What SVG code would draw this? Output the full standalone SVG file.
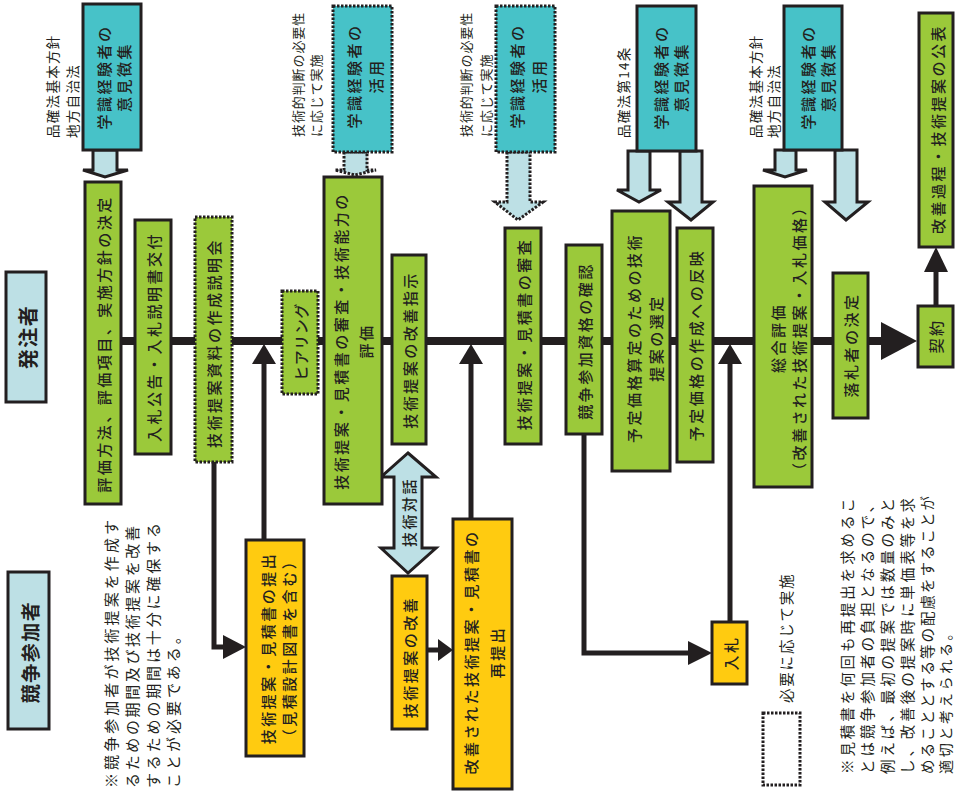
<svg xmlns="http://www.w3.org/2000/svg" width="955" height="794" viewBox="0 0 955 794">
<defs>
<style>
.bx{stroke:#231f20;stroke-width:3}
.g{fill:#9bc93a}
.y{fill:#ffcb10}
.c{fill:#47c2c8}
.lb{fill:#bde0e5}
.w{fill:#ffffff}
.dot{stroke-dasharray:2.5 1.5}
.ln{stroke:#231f20;fill:none;stroke-width:5}
.hd{fill:#231f20}
text{font-family:"Noto Sans CJK JP","Noto Sans CJK SC",sans-serif;fill:#231f20;dominant-baseline:central}
.t{font-size:15px;font-weight:500;letter-spacing:2.5px;text-anchor:middle}
.s{font-size:13.5px;letter-spacing:1.3px;text-anchor:start}
.n{font-size:14.5px;text-anchor:start}
.lane{font-size:20px;font-weight:bold;letter-spacing:1.5px;text-anchor:middle}
</style>
</defs>
<rect width="955" height="794" fill="#ffffff"/>
<g id="connectors">
<line x1="103" y1="341" x2="884" y2="341" stroke="#231f20" stroke-width="8"/>
<polygon class="hd" points="881,322 917,341 881,360"/>
<line class="ln" x1="264" y1="540" x2="264" y2="360"/>
<polygon class="hd" points="264,344 276,364 252,364"/>
<line class="ln" x1="471" y1="519" x2="471" y2="360"/>
<polygon class="hd" points="471,344 483,364 459,364"/>
<line class="ln" x1="730" y1="622" x2="730" y2="360"/>
<polygon class="hd" points="730,344 742,364 718,364"/>
<polyline class="ln" points="214,462 214,647 228,647"/>
<polygon class="hd" points="246,647 223,635 223,659"/>
<polyline class="ln" points="584,434 584,653 692,653"/>
<polygon class="hd" points="712,653 688,641 688,665"/>
<line class="ln" x1="427" y1="650" x2="442" y2="650"/>
<polygon class="hd" points="453,650 438,639 438,661"/>
<line class="ln" x1="936" y1="306" x2="936" y2="268"/>
<polygon class="hd" points="936,247 948,272 924,272"/>
<path class="bx lb" d="M93,150 V170 H83 L105,177 L128,170 H117 V150 Z"/>
<path class="bx lb dot" d="M344,152 V170 H335 L355,175 L376,170 H367 V152 Z"/>
<path class="bx lb dot" d="M507,152 V202 H495 L518,220 L543,202 H530 V152 Z"/>
<path class="bx lb" d="M628,151 V190 H617 L639,202 L661,190 H650 V151 Z"/>
<path class="bx lb" d="M680,151 V202 H668 L691,220 L713,202 H702 V151 Z"/>
<path class="bx lb" d="M775,150 V170 H763 L785,177 L807,170 H796 V150 Z"/>
<path class="bx lb" d="M835,150 V202 H825 L846,220 L868,202 H857 V150 Z"/>
<path class="bx lb" d="M408,453 L436,477 H422 V548 H436 L408,573 L381,548 H394 V477 H381 Z"/>
<text class="t" transform="translate(408,512) rotate(-90)">技術対話</text>
</g>
<g id="lane-owner"><rect class="bx lb" x="6" y="272" width="40" height="130"/><text class="lane" transform="translate(27,337) rotate(-90)">発注者</text></g>
<g id="lane-bidder"><rect class="bx lb" x="8" y="572" width="41" height="157"/><text class="lane" style="font-size:19px" transform="translate(29,652) rotate(-90)">競争参加者</text></g>
<g id="expert1"><rect class="bx c" x="83" y="4" width="58" height="146"/><text class="t" transform="translate(113,77) rotate(-90)"><tspan x="0" y="-10">学識経験者の</tspan><tspan x="0" y="10">意見徴集</tspan></text></g>
<g id="label1"><text class="s" transform="translate(52,138) rotate(-90)">品確法基本方針</text><text class="s" transform="translate(72,138) rotate(-90)">地方自治法</text></g>
<g id="n-decide"><rect class="bx g" x="85" y="182" width="36" height="322"/><text class="t" transform="translate(103,344) rotate(-90)">評価方法、評価項目、実施方針の決定</text></g>
<g id="n-notice"><rect class="bx g" x="135" y="220" width="36" height="234"/><text class="t" transform="translate(153,337) rotate(-90)">入札公告・入札説明書交付</text></g>
<g id="n-briefing"><rect class="bx g dot" x="195" y="217" width="37" height="245"/><text class="t" transform="translate(213,343) rotate(-90)">技術提案資料の作成説明会</text></g>
<g id="n-hearing"><rect class="bx g dot" x="282" y="291" width="36" height="103"/><text class="t" style="letter-spacing:0.5px" transform="translate(300,342) rotate(-90)">ヒアリング</text></g>
<g id="expert2"><rect class="bx c dot" x="333" y="6" width="59" height="146"/><text class="t" transform="translate(364,76) rotate(-90)"><tspan x="0" y="-11">学識経験者の</tspan><tspan x="0" y="11">活用</tspan></text></g>
<g id="label2"><text class="s" style="font-size:13px;letter-spacing:0.9px" transform="translate(297,137) rotate(-90)">技術的判断の必要性</text><text class="s" style="font-size:13px;letter-spacing:0.9px" transform="translate(315,137) rotate(-90)">に応じて実施</text></g>
<g id="n-review1"><rect class="bx g" x="324" y="177" width="58" height="327"/><text class="t" transform="translate(352.5,341) rotate(-90)"><tspan x="0" y="-12.5">技術提案・見積書の審査・技術能力の</tspan><tspan x="0" y="12.5">評価</tspan></text></g>
<g id="n-instruct"><rect class="bx g" x="392" y="255" width="34" height="189"/><text class="t" transform="translate(409,350) rotate(-90)">技術提案の改善指示</text></g>
<g id="n-submit"><rect class="bx y" x="246" y="540" width="58" height="216"/><text class="t" transform="translate(277.5,648) rotate(-90)"><tspan x="0" y="-10.5">技術提案・見積書の提出</tspan><tspan x="0" y="10.5">（見積設計図書を含む）</tspan></text></g>
<g id="n-improve"><rect class="bx y" x="392" y="576" width="35" height="153"/><text class="t" transform="translate(409,657) rotate(-90)">技術提案の改善</text></g>
<g id="n-resubmit"><rect class="bx y" x="453" y="519" width="59" height="270"/><text class="t" transform="translate(482.5,652) rotate(-90)"><tspan x="0" y="-13">改善された技術提案・見積書の</tspan><tspan x="0" y="13">再提出</tspan></text></g>
<g id="expert3"><rect class="bx c dot" x="496" y="6" width="59" height="146"/><text class="t" transform="translate(527,76) rotate(-90)"><tspan x="0" y="-11">学識経験者の</tspan><tspan x="0" y="11">活用</tspan></text></g>
<g id="label3"><text class="s" style="font-size:13px;letter-spacing:0.9px" transform="translate(465,137) rotate(-90)">技術的判断の必要性</text><text class="s" style="font-size:13px;letter-spacing:0.9px" transform="translate(485,137) rotate(-90)">に応じて実施</text></g>
<g id="n-review2"><rect class="bx g" x="505" y="228" width="36" height="216"/><text class="t" transform="translate(523,334) rotate(-90)">技術提案・見積書の審査</text></g>
<g id="n-qualify"><rect class="bx g" x="566" y="245" width="36" height="189"/><text class="t" transform="translate(584,341) rotate(-90)">競争参加資格の確認</text></g>
<g id="n-select"><rect class="bx g" x="612" y="211" width="58" height="260"/><text class="t" transform="translate(644,338) rotate(-90)"><tspan x="0" y="-11">予定価格算定のための技術</tspan><tspan x="0" y="11">提案の選定</tspan></text></g>
<g id="n-reflect"><rect class="bx g" x="677" y="228" width="36" height="234"/><text class="t" transform="translate(695,345) rotate(-90)">予定価格の作成への反映</text></g>
<g id="expert4"><rect class="bx c" x="637" y="6" width="59" height="145"/><text class="t" transform="translate(670,77) rotate(-90)"><tspan x="0" y="-10">学識経験者の</tspan><tspan x="0" y="10">意見徴集</tspan></text></g>
<g id="label4"><text class="s" transform="translate(623,138) rotate(-90)">品確法第14条</text></g>
<g id="n-bid"><rect class="bx y" x="712" y="622" width="35" height="62"/><text class="t" transform="translate(730,653) rotate(-90)">入札</text></g>
<g id="n-evaluate"><rect class="bx g" x="754" y="186" width="58" height="301"/><text class="t" transform="translate(787.5,338) rotate(-90)"><tspan x="0" y="-10.5">総合評価</tspan><tspan x="0" y="10.5">（改善された技術提案・入札価格）</tspan></text></g>
<g id="n-award"><rect class="bx g" x="833" y="273" width="35" height="145"/><text class="t" transform="translate(850,345) rotate(-90)">落札者の決定</text></g>
<g id="expert5"><rect class="bx c" x="784" y="6" width="58" height="144"/><text class="t" transform="translate(817,77) rotate(-90)"><tspan x="0" y="-10">学識経験者の</tspan><tspan x="0" y="10">意見徴集</tspan></text></g>
<g id="label5"><text class="s" transform="translate(755,138) rotate(-90)">品確法基本方針</text><text class="s" transform="translate(773,138) rotate(-90)">地方自治法</text></g>
<g id="n-contract"><rect class="bx g" x="918" y="306" width="35" height="61"/><text class="t" transform="translate(935,336) rotate(-90)">契約</text></g>
<g id="n-publish"><rect class="bx g" x="919" y="13" width="34" height="234"/><text class="t" transform="translate(937,129) rotate(-90)">改善過程・技術提案の公表</text></g>
<g id="legend"><rect class="bx w dot" x="763" y="713" width="37" height="72"/><text class="s" style="font-size:14.5px;letter-spacing:1.8px" transform="translate(785,703) rotate(-90)">必要に応じて実施</text></g>
<g id="note1">
<text class="n" style="font-size:15px" transform="translate(110,788) rotate(-90)" textLength="268" lengthAdjust="spacing">※競争参加者が技術提案を作成す</text>
<text class="n" style="font-size:15px" transform="translate(131,788) rotate(-90)" textLength="262" lengthAdjust="spacing">るための期間及び技術提案を改善</text>
<text class="n" style="font-size:15px" transform="translate(152,788) rotate(-90)" textLength="265" lengthAdjust="spacing">するための期間は十分に確保する</text>
<text class="n" style="font-size:15px;letter-spacing:3px" transform="translate(172,788) rotate(-90)">ことが必要である。</text>
</g>
<g id="note2">
<text class="n" transform="translate(846,774) rotate(-90)" textLength="276" lengthAdjust="spacing">※見積書を何回も再提出を求めるこ</text>
<text class="n" transform="translate(866,774) rotate(-90)" textLength="276" lengthAdjust="spacing">とは競争参加者の負担となるので、</text>
<text class="n" transform="translate(886,774) rotate(-90)" textLength="276" lengthAdjust="spacing">例えば、最初の提案では数量のみと</text>
<text class="n" transform="translate(906,774) rotate(-90)" textLength="276" lengthAdjust="spacing">し、改善後の提案時に単価表等を求</text>
<text class="n" transform="translate(926,774) rotate(-90)" textLength="278" lengthAdjust="spacing">めることとする等の配慮をすることが</text>
<text class="n" style="font-size:14px;letter-spacing:2.7px" transform="translate(945,774) rotate(-90)">適切と考えられる。</text>
</g>
</svg>
